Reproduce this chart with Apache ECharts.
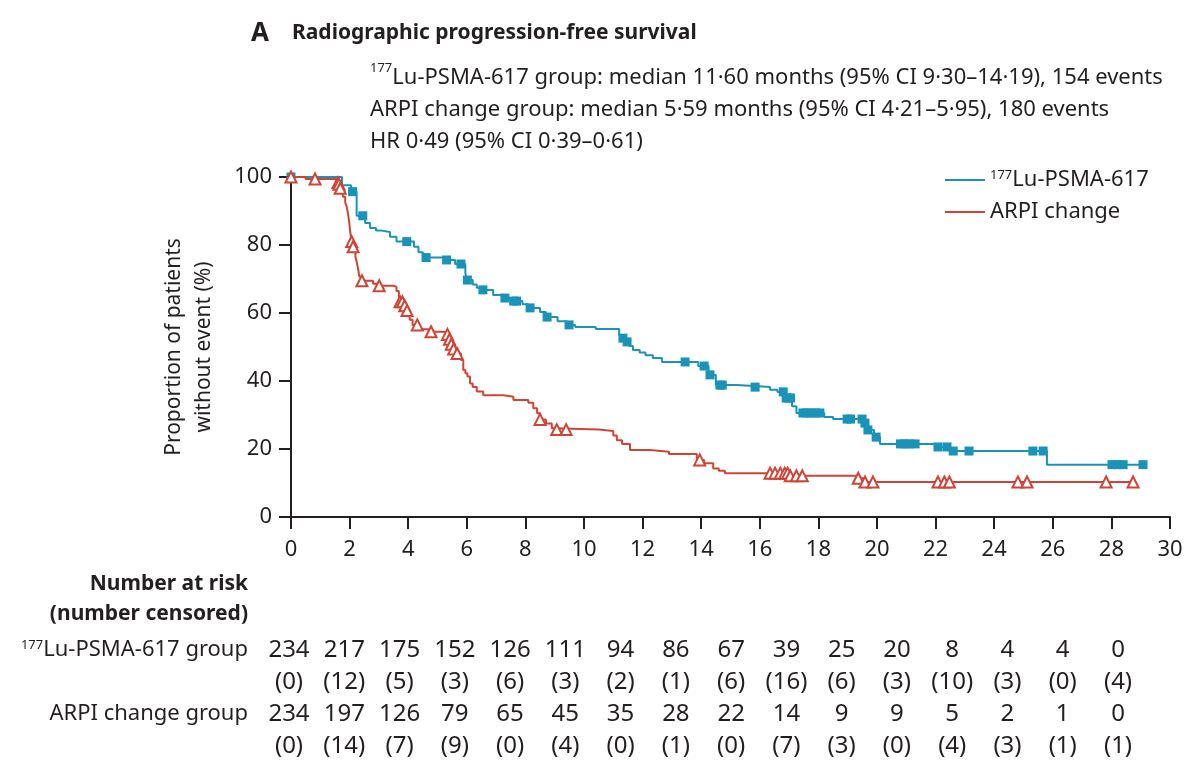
<!DOCTYPE html>
<html>
<head>
<meta charset="utf-8">
<title>Radiographic progression-free survival</title>
<script src="https://cdn.jsdelivr.net/npm/echarts@6/dist/echarts.min.js"></script>
<style>
  html, body { margin: 0; padding: 0; background: #fff; }
  #chart { width: 1200px; height: 775px; }
</style>
</head>
<body>
<div id="chart"></div>
<script>
// months shown on the x axis and in the risk table
const monthTicks = [0, 2, 4, 6, 8, 10, 12, 14, 16, 18, 20, 22, 24, 26, 28, 30];

// Kaplan-Meier curves: [month, % without event] after each step
const luCurve = [
  [0, 100], [1.74, 97.6], [2.05, 95.7], [2.24, 88.6], [2.53, 86.5], [2.7, 85], [2.9, 84.3],
  [3.04, 83.8], [3.38, 82.4], [3.6, 81.0], [4.2, 79.5], [4.35, 77.9], [4.5, 76.3], [5.2, 75.6],
  [5.6, 74.4], [5.95, 71.8], [6.0, 69.7], [6.2, 68.4], [6.34, 67.4], [6.5, 66.8], [6.9, 65.3],
  [7.2, 64.4], [7.6, 63.5], [7.9, 62.6], [8.1, 61.5], [8.5, 60.3], [8.7, 58.8], [9.1, 57.6],
  [9.4, 56.5], [9.7, 55.9], [10.4, 55.3], [11.2, 53.5], [11.3, 52.6], [11.45, 51.5],
  [11.55, 50.3], [11.67, 49.1], [11.9, 48.4], [12.1, 47.6], [12.35, 46.8], [12.66, 45.6],
  [13.9, 44.4], [14.25, 41.8], [14.5, 38.8], [15.2, 38.5], [15.8, 38.2], [16.35, 37.4],
  [16.6, 36.8], [16.9, 35], [17.1, 32.6], [17.25, 30.6], [18.2, 29.4], [18.5, 28.8],
  [19.55, 27.6], [19.65, 25.6], [19.9, 23.5], [20.1, 21.5], [22.0, 20.6], [22.5, 19.4],
  [25.8, 15.4], [29.08, 15.4]
];
const arpiCurve = [
  [0, 100], [0.5, 99.4], [1.55, 98.3], [1.62, 97.9], [1.65, 96.7], [1.7, 95.7], [1.77, 94.2],
  [1.85, 92.5], [1.9, 91.3], [1.95, 89], [1.99, 86.4], [2.04, 82.5], [2.07, 81], [2.1, 79.5],
  [2.13, 78.5], [2.2, 76.5], [2.24, 75.1], [2.3, 72.5], [2.33, 70.7], [2.4, 69.5], [2.8, 68.6],
  [3.0, 68.0], [3.5, 67.7], [3.6, 66.5], [3.68, 65], [3.72, 63.3], [3.81, 62.1], [3.89, 60.7],
  [3.97, 59.1], [4.05, 58], [4.15, 56.5], [4.4, 55.2], [4.7, 54.5], [5.2, 54.2], [5.33, 53.7],
  [5.4, 52.3], [5.46, 50.8], [5.54, 49.4], [5.65, 48.1], [5.8, 46.2], [5.88, 43.2], [5.95, 42.3],
  [6.02, 41.3], [6.11, 39.3], [6.2, 38.2], [6.34, 36.9], [6.56, 35.8], [7.25, 35.4], [7.59, 34.4],
  [8.1, 33.6], [8.27, 32], [8.4, 30.5], [8.5, 28.7], [8.7, 27.5], [8.9, 26.1], [9.0, 25.7],
  [10.5, 25.3], [11.0, 24], [11.12, 22.6], [11.3, 21.5], [11.57, 19.7], [12.25, 19.2],
  [12.9, 18.5], [13.85, 16.8], [14.1, 15.8], [14.41, 14.3], [14.6, 13.6], [14.81, 12.9],
  [17.0, 12.1], [19.3, 11.4], [19.55, 10.3], [28.74, 10.3]
];

// censoring times (months); marks sit on the curve
const luCensorTimes = [
  0, 2.1, 2.45, 3.95, 4.61, 5.31, 5.8, 6.02, 6.55, 7.3, 7.6, 7.7, 8.16, 8.74, 9.49, 11.33,
  11.47, 13.45, 14.1, 14.3, 14.64, 14.72, 15.84, 16.8, 16.9, 16.96, 17.05, 17.47, 17.6, 17.75,
  17.9, 18.05, 18.98, 19.1, 19.49, 19.59, 19.69, 19.97, 20.8, 20.95, 21.1, 21.3, 22.08, 22.39,
  22.6, 23.14, 25.32, 25.67, 28.02, 28.2, 28.4, 29.08
];
const arpiCensorTimes = [
  0, 0.82, 1.6, 1.64, 1.68, 2.07, 2.12, 2.42, 3.01, 3.72, 3.8, 3.88, 3.96, 4.31, 4.78, 5.34,
  5.41, 5.47, 5.55, 5.67, 8.5, 9.07, 9.39, 13.95, 16.35, 16.52, 16.7, 16.85, 16.95, 17.04,
  17.25, 17.45, 19.36, 19.59, 19.86, 22.08, 22.3, 22.47, 24.81, 25.12, 27.82, 28.74
];

// number at risk (number censored)
const luAtRisk = [234, 217, 175, 152, 126, 111, 94, 86, 67, 39, 25, 20, 8, 4, 4, 0];
const luCensored = [0, 12, 5, 3, 6, 3, 2, 1, 6, 16, 6, 3, 10, 3, 0, 4];
const arpiAtRisk = [234, 197, 126, 79, 65, 45, 35, 28, 22, 14, 9, 9, 5, 2, 1, 0];
const arpiCensored = [0, 14, 7, 9, 0, 4, 0, 1, 0, 7, 3, 0, 4, 3, 1, 1];

const BLUE = '#1a93b8';
const RED = '#d04436';
const INK = '#231f20';
const FONT = "'Noto Sans', sans-serif";

// value of a step curve at time t
function stepValue(curve, t) {
  let v = curve[0][1];
  for (const p of curve) {
    if (p[0] <= t) v = p[1];
  }
  return v;
}

const luCensor = luCensorTimes.map(t => [t, stepValue(luCurve, t)]);
const arpiCensor = arpiCensorTimes.map(t => [t, stepValue(arpiCurve, t)]);

const tableRows = ['luN', 'luC', 'arN', 'arC'];
const tableData = [];
monthTicks.forEach((m, i) => {
  tableData.push([m, 'luN', String(luAtRisk[i])]);
  tableData.push([m, 'luC', '(' + luCensored[i] + ')']);
  tableData.push([m, 'arN', String(arpiAtRisk[i])]);
  tableData.push([m, 'arC', '(' + arpiCensored[i] + ')']);
});

const supStyle = size => ({ fontSize: size, verticalAlign: 'top', lineHeight: 20, color: INK, fontFamily: FONT });

const chart = echarts.init(document.getElementById('chart'));
chart.setOption({
  backgroundColor: '#fff',
  animation: false,
  textStyle: { fontFamily: FONT, color: INK },
  title: [
    {
      left: 251, top: 21, padding: 0,
      text: 'A',
      textStyle: { fontSize: 26, fontWeight: 'bold', color: INK, fontFamily: FONT }
    },
    {
      left: 292, top: 23, padding: 0,
      text: 'Radiographic progression-free survival',
      textStyle: { fontSize: 21, fontWeight: 'bold', color: INK, fontFamily: FONT }
    },
    {
      left: 370, top: 62, padding: 0,
      text: '{sup|177}Lu-PSMA-617 group: median 11·60 months (95% CI 9·30–14·19), 154 events\n' +
            'ARPI change group: median 5·59 months (95% CI 4·21–5·95), 180 events\n' +
            'HR 0·49 (95% CI 0·39–0·61)',
      textStyle: {
        fontSize: 22, lineHeight: 32, fontWeight: 'normal', color: INK, fontFamily: FONT,
        rich: { sup: supStyle(13) }
      }
    }
  ],
  legend: {
    orient: 'vertical',
    left: 945, top: 169, padding: 0,
    itemWidth: 40, itemHeight: 2, itemGap: 10,
    icon: 'rect',
    data: ['lu', 'arpi'],
    formatter: name => name === 'lu' ? '{sup|177}Lu-PSMA-617' : 'ARPI change',
    textStyle: {
      fontSize: 22, color: INK, fontFamily: FONT,
      rich: { sup: supStyle(13) }
    }
  },
  grid: [
    { left: 291, top: 177, width: 879, height: 340 },
    { left: 289, top: 634, width: 829, height: 128 }
  ],
  xAxis: [
    {
      gridIndex: 0, type: 'value', min: 0, max: 30, interval: 2,
      axisLine: { show: true, onZero: false, lineStyle: { color: INK, width: 2 } },
      axisTick: { show: true, length: 12, lineStyle: { color: INK, width: 2 } },
      axisLabel: { fontSize: 22, color: INK, margin: 22, fontFamily: FONT },
      splitLine: { show: false }
    },
    { gridIndex: 1, type: 'value', min: 0, max: 30, show: false }
  ],
  yAxis: [
    {
      gridIndex: 0, type: 'value', min: 0, max: 100, interval: 20,
      name: 'Proportion of patients\nwithout event (%)',
      nameLocation: 'middle', nameGap: 72,
      nameTextStyle: { fontSize: 21, lineHeight: 30, color: INK, fontFamily: FONT },
      axisLine: { show: true, lineStyle: { color: INK, width: 2 } },
      axisTick: { show: true, length: 12, lineStyle: { color: INK, width: 2 } },
      axisLabel: { fontSize: 22, color: INK, margin: 19, fontFamily: FONT },
      splitLine: { show: false }
    },
    {
      gridIndex: 1, type: 'category', data: tableRows, inverse: true,
      axisLine: { show: false }, axisTick: { show: false }, splitLine: { show: false },
      axisLabel: {
        margin: 41, fontSize: 22, color: INK, fontFamily: FONT,
        formatter: v => v === 'luN' ? '{sup|177}Lu-PSMA-617 group' : (v === 'arN' ? 'ARPI change group' : ''),
        rich: { sup: supStyle(13) }
      }
    }
  ],
  graphic: [
    {
      type: 'text', x: 248, y: 584,
      style: { text: 'Number at risk', font: "bold 21px 'Noto Sans'", fill: INK, textAlign: 'right', textVerticalAlign: 'middle' }
    },
    {
      type: 'text', x: 248, y: 614,
      style: { text: '(number censored)', font: "bold 21px 'Noto Sans'", fill: INK, textAlign: 'right', textVerticalAlign: 'middle' }
    }
  ],
  series: [
    {
      name: 'lu', type: 'line', step: 'end', data: luCurve,
      showSymbol: false, color: BLUE,
      lineStyle: { color: BLUE, width: 2 }, z: 2
    },
    {
      name: 'arpi', type: 'line', step: 'end', data: arpiCurve,
      showSymbol: false, color: RED,
      lineStyle: { color: RED, width: 2 }, z: 2
    },
    {
      name: 'luCensor', type: 'scatter', data: luCensor,
      symbol: 'rect', symbolSize: 9,
      itemStyle: { color: BLUE, opacity: 1 }, z: 3
    },
    {
      name: 'arpiCensor', type: 'scatter', data: arpiCensor,
      symbol: 'triangle', symbolSize: 11,
      itemStyle: { color: '#fff', borderColor: RED, borderWidth: 2, opacity: 1 }, z: 4
    },
    {
      name: 'risk', type: 'scatter', xAxisIndex: 1, yAxisIndex: 1,
      data: tableData, symbolSize: 1,
      itemStyle: { color: 'transparent', opacity: 1 },
      label: {
        show: true, position: 'inside', fontSize: 24, color: INK, opacity: 1, fontFamily: FONT,
        formatter: p => p.data[2]
      }
    }
  ]
});
</script>
</body>
</html>
